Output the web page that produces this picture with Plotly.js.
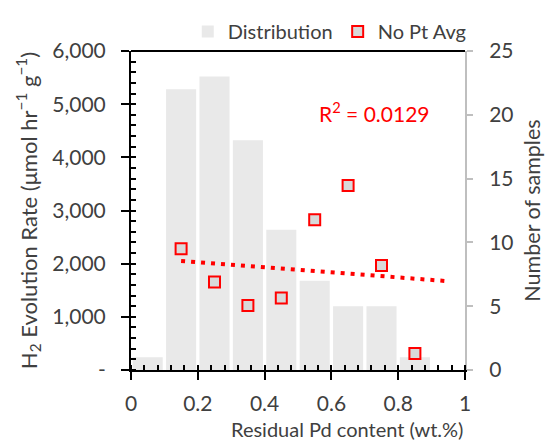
<!DOCTYPE html>
<html><head><meta charset="utf-8">
<script src="https://cdn.plot.ly/plotly-3.0.1.min.js"></script>
<style>html,body{margin:0;padding:0;background:#fff}</style>
</head><body><div id="chart" style="width:546px;height:443px"></div>
<script>
const binCenters = [0.05, 0.15, 0.25, 0.35, 0.45, 0.55, 0.65, 0.75, 0.85];
const sampleCounts = [1, 22, 23, 18, 11, 7, 5, 5, 1];
const pdContent = [0.15, 0.25, 0.35, 0.45, 0.55, 0.65, 0.75, 0.85];
const h2Rate = [2282, 1657, 1212, 1354, 2826, 3470, 1967, 310];
const rateTickVals = [0, 1000, 2000, 3000, 4000, 5000, 6000];
const rateTickText = ['-', '1,000', '2,000', '3,000', '4,000', '5,000', '6,000'];
const countTickVals = [0, 5, 10, 15, 20, 25];
const xTickVals = [0, 0.2, 0.4, 0.6, 0.8, 1];
const xTickText = ['0', '0.2', '0.4', '0.6', '0.8', '1'];
const trendForwardX = 0.95;
const r2Label = 'R<sup>2</sup> = 0.0129';

// least-squares linear trendline from the data
const n = pdContent.length;
const mx = pdContent.reduce((a, b) => a + b, 0) / n;
const my = h2Rate.reduce((a, b) => a + b, 0) / n;
let sxy = 0, sxx = 0;
for (let i = 0; i < n; i++) { sxy += (pdContent[i] - mx) * (h2Rate[i] - my); sxx += (pdContent[i] - mx) ** 2; }
const slope = sxy / sxx, intercept = my - slope * mx;
const trendX = [pdContent[0], trendForwardX];
const trendY = trendX.map(x => intercept + slope * x);

const FONT = 'Lato, "Open Sans", sans-serif';
const TXT = '#404040';

const traces = [
  { type: 'bar', x: binCenters, y: sampleCounts, name: 'Distribution', yaxis: 'y',
    marker: { color: '#e9e9e9', line: { width: 0 } }, hoverinfo: 'x+y' },
  { type: 'scatter', mode: 'lines', x: trendX, y: trendY, yaxis: 'y2', showlegend: false,
    line: { color: '#ff0000', width: 4, dash: '4px,6px' }, hoverinfo: 'skip' },
  { type: 'scatter', mode: 'markers', x: pdContent, y: h2Rate, name: 'No Pt Avg', yaxis: 'y2',
    marker: { symbol: 'square', size: 11, color: '#d9d9d9', line: { color: '#ff0000', width: 2 } } }
];

const layout = {
  width: 546, height: 443,
  margin: { l: 131, r: 81, t: 46, b: 73 },
  paper_bgcolor: '#fff', plot_bgcolor: '#fff',
  font: { family: FONT, size: 21, color: TXT },
  bargap: 0.1,
  showlegend: true,
  legend: { orientation: 'h', x: 0.17, xanchor: 'left', y: 1.0, yanchor: 'bottom',
    font: { family: FONT, size: 20, color: TXT }, bgcolor: 'rgba(0,0,0,0)', traceorder: 'normal' },
  xaxis: {
    range: [0, 1], tickvals: xTickVals, ticktext: xTickText,
    showline: true, linecolor: '#000', linewidth: 2, zeroline: false, showgrid: false,
    ticks: 'outside', ticklen: 8, tickwidth: 2, tickcolor: '#000', ticklabelstandoff: 6,
    minor: { dtick: 0.04, ticks: 'inside', ticklen: 5, tickwidth: 2, tickcolor: '#000', showgrid: false },
    tickfont: { family: FONT, size: 21, color: TXT },
    automargin: false
  },
  yaxis: {
    range: [0, 25], tickvals: countTickVals, side: 'right',
    showline: true, linecolor: '#bfbfbf', linewidth: 2, zeroline: false, showgrid: false,
    ticks: 'outside', ticklen: 6, tickwidth: 2, tickcolor: '#bfbfbf', ticklabelstandoff: 12,
    tickfont: { family: FONT, size: 21, color: TXT },
    title: { text: 'Number of samples', font: { family: FONT, size: 21.5, color: TXT }, standoff: 12 },
    automargin: false
  },
  yaxis2: {
    range: [0, 6000], tickvals: rateTickVals, ticktext: rateTickText, overlaying: 'y', side: 'left',
    showline: true, linecolor: '#000', linewidth: 2, zeroline: false, showgrid: false,
    ticks: 'outside', ticklen: 8, tickwidth: 2, tickcolor: '#000', ticklabelstandoff: 11,
    minor: { dtick: 200, ticks: 'inside', ticklen: 5, tickwidth: 2, tickcolor: '#000', showgrid: false },
    tickfont: { family: FONT, size: 21, color: TXT },
    title: { text: 'H<sub>2</sub> Evolution Rate (μmol hr<sup>−1</sup> g<sup>−1</sup>)', font: { family: FONT, size: 22, color: TXT }, standoff: 9 },
    automargin: false
  },
  shapes: [
    { type: 'line', xref: 'paper', yref: 'paper', x0: 0, x1: 1, y0: 1, y1: 1, line: { color: '#000', width: 2 } }
  ],
  annotations: [
    { xref: 'paper', yref: 'paper', x: 0.73, y: 0.81, xanchor: 'center', yanchor: 'middle', text: r2Label, showarrow: false,
      font: { family: FONT, size: 21, color: '#ff0000' } },
    { xref: 'paper', yref: 'paper', x: 0.646, y: -0.186, xanchor: 'center', yanchor: 'middle',
      text: 'Residual Pd content (wt.%)', showarrow: false, font: { family: FONT, size: 20, color: TXT } }
  ]
};

Plotly.newPlot('chart', traces, layout, { displayModeBar: false, staticPlot: true });
</script>
</body></html>
